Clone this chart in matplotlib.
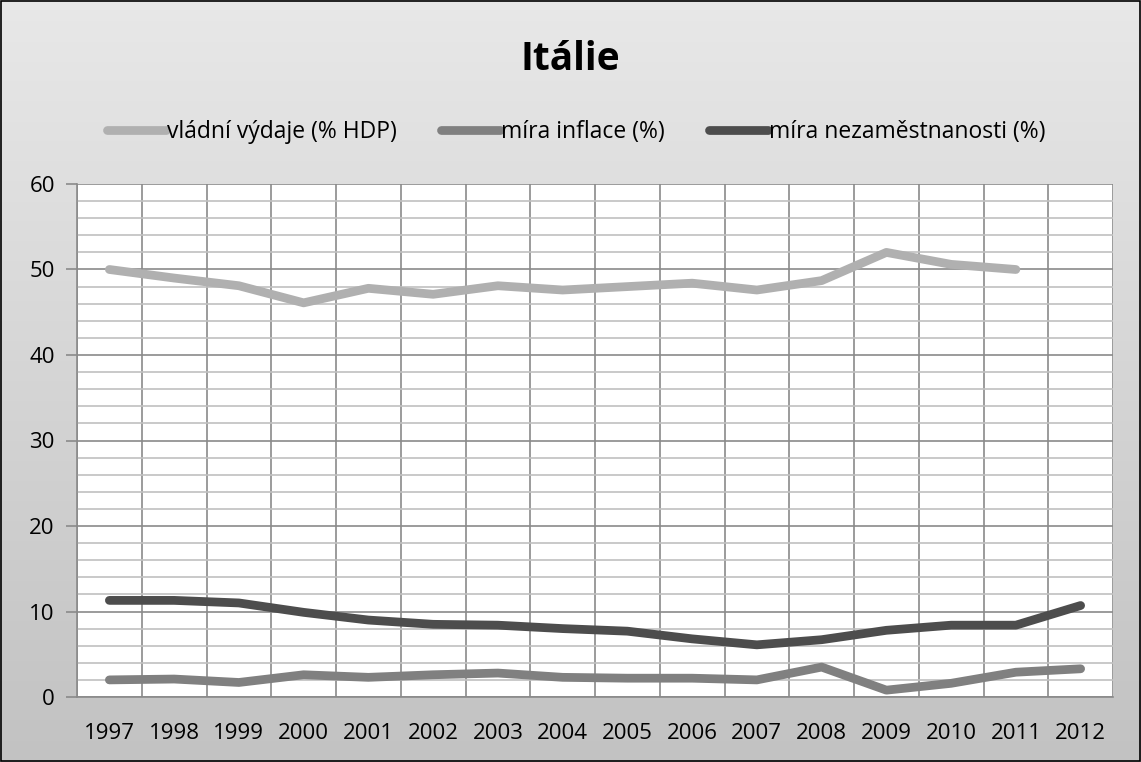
import matplotlib
matplotlib.use("Agg")
import matplotlib.pyplot as plt
import numpy as np
from matplotlib.ticker import MultipleLocator, FixedLocator
from matplotlib.colors import LinearSegmentedColormap

years = ["1997", "1998", "1999", "2000", "2001", "2002", "2003", "2004",
         "2005", "2006", "2007", "2008", "2009", "2010", "2011", "2012"]
vydaje = [50.0, 49.0, 48.1, 46.1, 47.8, 47.1, 48.1, 47.6, 48.0, 48.4, 47.6, 48.7, 52.0, 50.6, 50.0, None]
inflace = [2.0, 2.1, 1.7, 2.6, 2.3, 2.6, 2.8, 2.3, 2.2, 2.2, 2.0, 3.5, 0.8, 1.6, 2.9, 3.3]
nezam = [11.3, 11.3, 11.0, 9.9, 9.0, 8.5, 8.4, 8.0, 7.7, 6.8, 6.1, 6.7, 7.8, 8.4, 8.4, 10.7]
labels = ["vládní výdaje (% HDP)", "míra inflace (%)", "míra nezaměstnanosti (%)"]
colors = ["#b0b0b0", "#808080", "#4d4d4d"]

plt.rcParams['font.family'] = ['Open Sans', 'DejaVu Sans']

fig = plt.figure(figsize=(11.41, 7.62), dpi=100)

# gradient background
bg = fig.add_axes([0, 0, 1, 1], zorder=-10)
grad = np.linspace(0, 1, 256).reshape(-1, 1)
cmap = LinearSegmentedColormap.from_list("g", ["#e8e8e8", "#c2c2c2"])
bg.imshow(grad, aspect='auto', cmap=cmap, extent=[0, 1, 0, 1], origin='upper')
bg.set_axis_off()
bg.add_patch(plt.Rectangle((0.0005, 0.0007), 0.999, 0.9986, fill=False, edgecolor='black', lw=1.2,
                           transform=bg.transAxes))

ax = fig.add_axes([77/1141, 65/762, (1113-77)/1141, (697-184)/762])
ax.set_facecolor("white")
x = np.arange(len(years))

def arr(v):
    return np.array([np.nan if a is None else a for a in v], dtype=float)

series = [arr(vydaje), arr(inflace), arr(nezam)]
lines = []
for s, c, l in zip(series, colors, labels):
    ln, = ax.plot(x, s, color=c, lw=6.3, solid_capstyle='round', solid_joinstyle='round', label=l, zorder=3)
    lines.append(ln)

ax.set_xlim(-0.5, len(years) - 0.5)
ax.set_ylim(0, 60)
ax.yaxis.set_major_locator(MultipleLocator(10))
ax.yaxis.set_minor_locator(MultipleLocator(2))
ax.set_xticks(x)
ax.set_xticklabels(years)
ax.xaxis.set_minor_locator(FixedLocator(np.arange(-0.5, len(years), 1.0)))

ax.grid(which='minor', axis='y', color='#c0c0c0', lw=1.2)
ax.grid(which='major', axis='y', color='#8a8a8a', lw=1.2)
ax.grid(which='minor', axis='x', color='#8a8a8a', lw=1.2)
ax.set_axisbelow(True)

for sp in ['top', 'right']:
    ax.spines[sp].set_visible(False)
for sp in ['left', 'bottom']:
    ax.spines[sp].set_color('#8a8a8a')
    ax.spines[sp].set_linewidth(1.2)

ax.tick_params(axis='x', which='both', length=0, labelsize=16, pad=19)
ax.tick_params(axis='y', which='major', length=8, color='#8a8a8a', width=1.2, labelsize=16, pad=8)
ax.tick_params(axis='y', which='minor', length=0)
ax.tick_params(axis='x', which='minor', length=0)

fig.text(0.5, 0.922, "Itálie", ha='center', va='center', fontsize=28, fontweight='bold')

leg = fig.legend(handles=lines, labels=labels, loc='center', bbox_to_anchor=(0.505, 0.827),
                 ncol=3, frameon=False, fontsize=16.5, handlelength=2.6, handletextpad=0.05,
                 columnspacing=1.9)

fig.savefig("out.png", dpi=100)
